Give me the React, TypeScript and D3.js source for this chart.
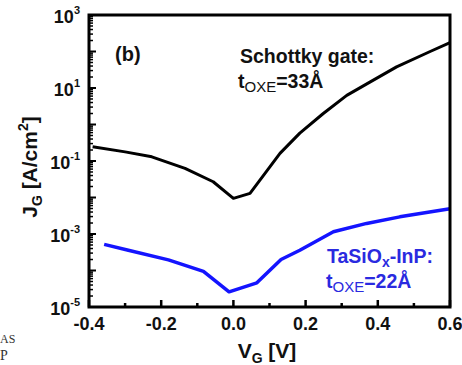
import React from 'react';
import * as d3 from 'd3';

// Schottky gate curve (black)
const schottkyV = [-0.39, -0.3, -0.226, -0.134, -0.056, 0.0, 0.046, 0.101, 0.129, 0.184, 0.249, 0.314, 0.378, 0.452, 0.545, 0.6];
const schottkyJ = [2.45e-1, 1.78e-1, 1.3e-1, 6.3e-2, 2.7e-2, 9.5e-3, 1.3e-2, 6.9e-2, 1.62e-1, 5.8e-1, 2.0, 6.3, 14.5, 38, 100, 175];

// TaSiOx-InP curve (blue)
const tasioV = [-0.358, -0.291, -0.18, -0.083, -0.012, 0.065, 0.132, 0.184, 0.277, 0.369, 0.461, 0.6];
const tasioJ = [5.2e-4, 3.6e-4, 1.95e-4, 9.5e-5, 2.6e-5, 4.6e-5, 2.0e-4, 3.6e-4, 1.15e-3, 1.95e-3, 2.95e-3, 4.9e-3];

const xTicks = [-0.4, -0.2, 0.0, 0.2, 0.4, 0.6];
const xMinor = [-0.3, -0.1, 0.1, 0.3, 0.5];
const yLabelExps = [3, 1, -1, -3, -5];

const W = 462;
const H = 365;
const margin = { top: 15, right: 12, bottom: 58, left: 89 };

export default function App() {
  const x = d3.scaleLinear().domain([-0.4, 0.6]).range([margin.left, W - margin.right]);
  const y = d3.scaleLog().domain([1e-5, 1e3]).range([H - margin.bottom, margin.top]);

  const line = d3
    .line<[number, number]>()
    .x((d) => x(d[0]))
    .y((d) => y(d[1]));

  const black = line(schottkyV.map((v, i) => [v, schottkyJ[i]]));
  const blue = line(tasioV.map((v, i) => [v, tasioJ[i]]));

  // log ticks: majors each decade, minors 2..9
  const yMajor = d3.range(-5, 4).map((e) => Math.pow(10, e));
  const yMinor: number[] = [];
  d3.range(-5, 3).forEach((e) => {
    for (let k = 2; k <= 9; k++) yMinor.push(k * Math.pow(10, e));
  });

  const x0 = margin.left;
  const x1 = W - margin.right;
  const y0 = H - margin.bottom;
  const y1 = margin.top;
  const font = 'Liberation Sans, Arial, sans-serif';
  const blueTxt = '#2a2ae0';

  return (
    <svg
      width={W}
      height={H}
      style={{ position: 'absolute', left: 0, top: 0, background: '#fff' }}
      fontFamily={font}
    >
      <rect x={0} y={0} width={W} height={H} fill="#fff" />

      {/* curves */}
      <path d={blue || ''} fill="none" stroke="#1414ff" strokeWidth={3.5} strokeLinejoin="round" />
      <path d={black || ''} fill="none" stroke="#000" strokeWidth={3} strokeLinejoin="round" />

      {/* ticks (inward) */}
      {xTicks.map((t) => (
        <line key={'xt' + t} x1={x(t)} x2={x(t)} y1={y0} y2={y0 - 7} stroke="#000" strokeWidth={2.5} />
      ))}
      {xMinor.map((t) => (
        <line key={'xm' + t} x1={x(t)} x2={x(t)} y1={y0} y2={y0 - 4} stroke="#000" strokeWidth={2.5} />
      ))}
      {yMajor.map((t) => (
        <line key={'ym' + t} x1={x0} x2={x0 + 7} y1={y(t)} y2={y(t)} stroke="#000" strokeWidth={2} />
      ))}
      {yMinor.map((t) => (
        <line key={'yn' + t} x1={x0} x2={x0 + 4} y1={y(t)} y2={y(t)} stroke="#000" strokeWidth={1.5} />
      ))}

      {/* frame */}
      <rect x={x0} y={y1} width={x1 - x0} height={y0 - y1} fill="none" stroke="#000" strokeWidth={3} />

      {/* x tick labels */}
      {xTicks.map((t) => (
        <text key={'xl' + t} x={x(t)} y={330} textAnchor="middle" fontSize={18} fontWeight="bold" fill="#111">
          {d3.format('.1f')(t).replace('−', '-')}
        </text>
      ))}

      {/* y tick labels */}
      {yLabelExps.map((e) => (
        <text key={'yl' + e} x={80} y={y(Math.pow(10, e)) + 8} textAnchor="end" fontSize={18} fontWeight="bold" fill="#111">
          10
          <tspan dy={-9} fontSize={11}>
            {e}
          </tspan>
        </text>
      ))}

      {/* axis titles */}
      <text x={267} y={358} textAnchor="middle" fontSize={21} fontWeight="bold" fill="#111">
        V<tspan fontSize={14} dy={5}>G</tspan>
        <tspan dy={-5}> [V]</tspan>
      </text>
      <text
        transform="translate(37,167) rotate(-90)"
        textAnchor="middle"
        fontSize={21}
        fontWeight="bold"
        fill="#111"
      >
        J<tspan fontSize={14} dy={5}>G</tspan>
        <tspan dy={-5}> [A/cm</tspan>
        <tspan fontSize={14} dy={-9}>2</tspan>
        <tspan dy={9}>]</tspan>
      </text>

      {/* annotations */}
      <text x={115} y={61} fontSize={20} fontWeight="bold" fill="#111">(b)</text>
      <text x={240} y={63} fontSize={19.5} fontWeight="bold" fill="#111">
        Schottky  gate:
      </text>
      <text x={238} y={88} fontSize={19.5} fontWeight="bold" fill="#111">
        t<tspan fontSize={15} fontWeight="normal" dy={4}>OXE</tspan>
        <tspan dy={-4}>=33Å</tspan>
      </text>
      <text x={327} y={263} fontSize={19.5} fontWeight="bold" fill={blueTxt}>
        TaSiO<tspan fontSize={14} dy={4}>x</tspan>
        <tspan dy={-4}>-InP:</tspan>
      </text>
      <text x={326} y={288} fontSize={19.5} fontWeight="bold" fill={blueTxt}>
        t<tspan fontSize={15} fontWeight="normal" dy={4}>OXE</tspan>
        <tspan dy={-4}>=22Å</tspan>
      </text>

      {/* cropped fragments from neighbouring panel */}
      <text x={0} y={343} fontSize={12} fontFamily="Liberation Serif, serif" fill="#333">AS</text>
      <text x={0} y={360} fontSize={14} fontFamily="Liberation Serif, serif" fill="#333">P</text>
    </svg>
  );
}
